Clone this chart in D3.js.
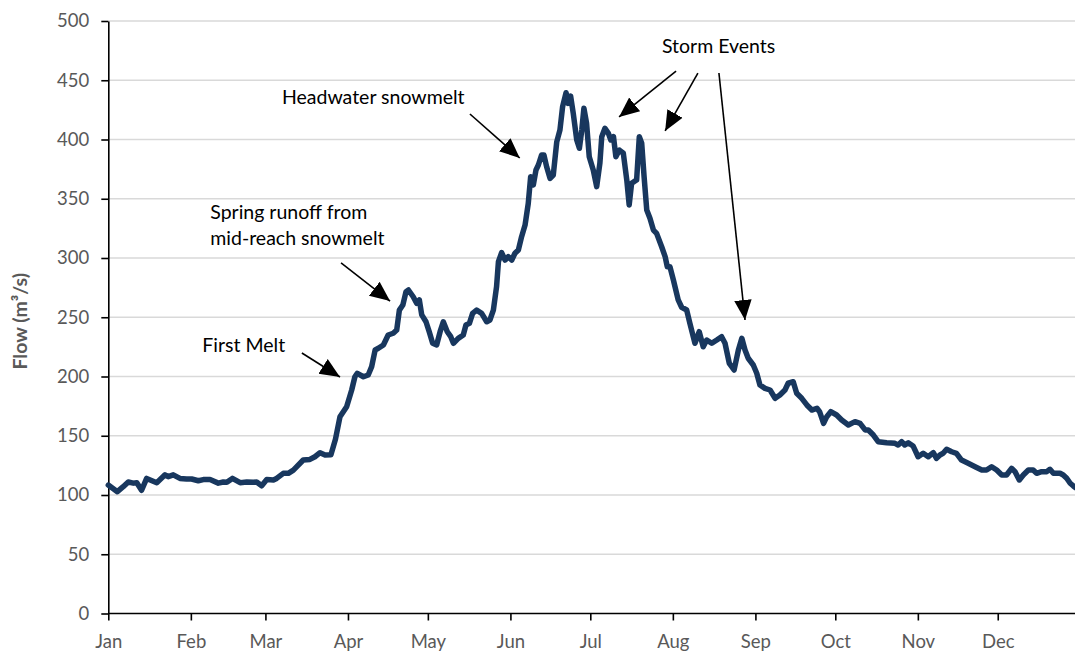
<!DOCTYPE html>
<html><head><meta charset="utf-8">
<script src="https://cdn.jsdelivr.net/npm/d3@7"></script>
<style>body{margin:0;background:#fff}svg{display:block}</style>
</head><body><div id="chart"></div>
<script>
const monthLabels = ["Jan","Feb","Mar","Apr","May","Jun","Jul","Aug","Sep","Oct","Nov","Dec"];
const monthStartDays = [0,31,59,90,120,151,181,212,243,273,304,334];
const yTicks = [0,50,100,150,200,250,300,350,400,450,500];

const days = [0,3.4,5.6,7.5,9.4,10.7,12.5,14.4,18.2,21.3,22.5,24.4,26.9,29.4,31.3,33.8,35.7,38.2,41.3,43.2,44.5,46.6,49.5,52,54.5,55.7,57.6,59.5,62,63.2,65.7,67.6,69.5,73.2,75.7,77.6,79.5,81.4,83.6,85.3,87,89.5,91.4,92.6,93.5,95.8,97.6,98.9,100.2,101.4,103.3,105.1,107,108.3,109.3,110.6,111.8,112.7,114.5,115.8,116.8,117.7,119.3,120.5,121.8,123.3,124.6,125.8,127.3,128.6,129.6,131.4,133.3,134.3,135.6,136.8,138.3,140.2,142.1,143.3,144.6,145.8,146.5,147.7,149,150.2,151.5,152.7,154,155.2,156.5,157.7,158.6,159.6,160.6,161.5,162.7,163.6,164.6,165.9,167.1,168.4,169.6,170.6,171.9,172.7,173.6,174.6,175.9,176.9,177.8,178.6,179.6,180.6,182.1,183.4,184.6,185.3,186.5,187.8,188.7,189.7,190.6,191.9,193.4,194.7,195.6,196.5,197.4,198.4,199.4,200.3,201.2,202.2,203.4,204.7,205.9,207.8,209.1,209.9,210.9,212.2,214,215.3,217.2,218.4,220.3,221.9,223.4,224.7,226.6,228.5,230.3,231.6,233.2,235,236.6,237.9,239.1,240.3,242.2,243.5,244.7,246.6,248.5,250.4,252.2,254.1,255.3,257.2,258.5,260.4,262.3,264.2,266.1,267.1,268.6,269.8,271.3,273.5,275.4,277.9,280.4,282.3,284.2,285.4,287.3,289.1,292.3,295.4,296.6,297.9,299.1,300.4,302.2,304.1,306,307.9,309.8,311,312.3,313.5,314.8,316.7,318.5,320.4,322.9,325.5,328,329.8,331.7,333.6,335.5,337.3,339.2,340.5,342.1,343.6,345.5,347.3,348.6,350.5,352.4,353.6,354.9,357.4,358.6,359.9,361.2,362.4,363.3];
const flow = [108.4,102.8,107,111,110,110.4,104,114,110.4,117,115.5,117,114,113.5,113.5,112,113,113,110,111,110.7,114,110.4,111,110.7,111,107.8,113,112.7,114,118.3,118.3,121,129.5,130,132.3,135.7,133.8,134,147,166,174.5,188.6,199.8,202.7,199.8,201.3,208.3,222.4,223.8,226.6,235,236.5,239.2,256,260.3,271.6,273,267.3,261.8,264.6,252,246.2,237.8,228,226.6,237.8,246.2,237.8,233.6,228,232.2,235,243.5,244.9,253.3,256,253.3,246.2,247.7,256,275.8,296.9,304.5,298.3,301.1,298.3,304,306.8,318,327.8,346,368.6,361.6,374.3,378.5,386.9,386.9,377,367.2,370,398,408,427.7,439.5,430.5,436.7,422,399.6,392.6,408,426.3,413.7,385.5,374.3,360.2,380,402.4,409.4,405.2,399.6,402.4,385.5,391.1,388.4,365.8,344.7,363,364.4,365.8,402.4,396.8,368.6,340.5,333.5,323.6,320.8,309.5,301.1,292.7,292.7,281.4,264.6,258.4,256.1,244.9,228,237.8,225.1,230.8,228,230.8,233.6,228,211.1,205.5,222.4,232.2,222.4,215.4,209.7,202.7,192.8,190,188.6,181.6,184.4,188.6,194.3,195.6,185.8,181.6,176,171.7,173.2,170.3,160.5,166.1,170.3,167.5,163.3,159.1,161.9,160.5,154.9,154.9,150.6,145,144.1,143.6,142.2,145,142.2,144.1,141.4,132.3,135.2,132.3,135.7,131,133.8,135.2,138.6,136.5,135.2,129.5,126.8,123.9,121.1,121.1,123.9,121.1,116.9,116.9,122.5,119.7,112.7,116.9,121.1,121.1,118.3,119.7,119.7,121.7,118.3,118.3,116.9,114.1,109.9,107.6,106];

// annotations in data coordinates (day, flow)
const annoTexts = [
  {lines:["Headwater snowmelt"], d:65.2, v:430},
  {lines:["Spring runoff from","mid-reach snowmelt"], d:38.3, v:333},
  {lines:["First Melt"], d:35.3, v:220.7},
  {lines:["Storm Events"], d:207.9, v:473}
];
const arrows = [
  {d0:135.8, v0:421.5, d1:154.5, v1:384.4},
  {d0:87.4, v0:295.8, d1:105.8, v1:263.7},
  {d0:72.7, v0:219.8, d1:87, v1:199.6},
  {d0:213.2, v0:457.8, d1:191.8, v1:419},
  {d0:221.4, v0:456.1, d1:209.1, v1:407.2},
  {d0:229.3, v0:456.1, d1:239.1, v1:247.7}
];

const W = 1075, H = 652;
const x = d3.scaleLinear().domain([0,365]).range([108.3, 108.3 + 365*2.663]);
const y = d3.scaleLinear().domain([0,500]).range([613.5, 21]);
const font = "Lato, 'Liberation Sans', sans-serif";

const svg = d3.select("#chart").append("svg").attr("width", W).attr("height", H);

// gridlines
svg.append("g").selectAll("line").data(yTicks.filter(t=>t>0)).join("line")
  .attr("x1", x(0)).attr("x2", W).attr("y1", d=>y(d)).attr("y2", d=>y(d))
  .attr("stroke", "#d9d9d9").attr("stroke-width", 1.5);

// y axis
const yAxis = svg.append("g").attr("transform", `translate(${x(0)},0)`)
  .call(d3.axisLeft(y).tickValues(yTicks).tickSize(7).tickPadding(12).tickSizeOuter(0));
yAxis.select(".domain").attr("stroke", "#000").attr("stroke-width", 1.6);
yAxis.selectAll(".tick line").attr("stroke", "#000").attr("stroke-width", 1.6);
yAxis.selectAll("text").attr("fill", "#595959").style("font-family", font).style("font-size", "18.5px");

// x axis
const xAxis = svg.append("g").attr("transform", `translate(0,${y(0)})`)
  .call(d3.axisBottom(x).tickValues(monthStartDays).tickFormat((d,i)=>monthLabels[i]).tickSize(7).tickPadding(14).tickSizeOuter(0));
xAxis.select(".domain").attr("d", `M${x(0)},0H${W}`).attr("stroke", "#000").attr("stroke-width", 1.6);
xAxis.selectAll(".tick line").attr("stroke", "#000").attr("stroke-width", 1.6);
xAxis.selectAll("text").attr("fill", "#595959").style("font-family", font).style("font-size", "18.5px");

// y title
svg.append("text").attr("transform", `translate(27,${(y(0)+y(500))/2 + 4}) rotate(-90)`)
  .attr("text-anchor", "middle").attr("fill", "#595959")
  .style("font-family", font).style("font-size", "19.5px").style("font-weight", "bold")
  .text("Flow (m³/s)");

// line
const pts = days.map((d,i)=>[d, flow[i]]);
svg.append("path").datum(pts)
  .attr("d", d3.line().x(d=>x(d[0])).y(d=>y(d[1])))
  .attr("fill", "none").attr("stroke", "#18375e").attr("stroke-width", 5.5)
  .attr("stroke-linejoin", "round").attr("stroke-linecap", "round");

// arrows
svg.append("defs").append("marker").attr("id", "ah")
  .attr("markerUnits", "userSpaceOnUse").attr("markerWidth", 20).attr("markerHeight", 20)
  .attr("viewBox", "0 -7 16 14").attr("refX", 16).attr("refY", 0).attr("orient", "auto")
  .append("path").attr("d", "M0,-7L16,0L0,7Z").attr("fill", "#000");
svg.append("g").selectAll("line").data(arrows).join("line")
  .attr("x1", d=>x(d.d0)).attr("y1", d=>y(d.v0)).attr("x2", d=>x(d.d1)).attr("y2", d=>y(d.v1))
  .attr("stroke", "#000").attr("stroke-width", 1.6).attr("marker-end", "url(#ah)");

// annotation texts
const at = svg.append("g").selectAll("text").data(annoTexts).join("text")
  .attr("x", d=>x(d.d)).attr("y", d=>y(d.v)).attr("fill", "#000")
  .style("font-family", font).style("font-size", "19.5px");
at.selectAll("tspan").data(d=>d.lines.map((l,i)=>({l,i,d}))).join("tspan")
  .attr("x", t=>x(t.d.d)).attr("dy", t=>t.i===0?0:26).text(t=>t.l);
</script></body></html>
